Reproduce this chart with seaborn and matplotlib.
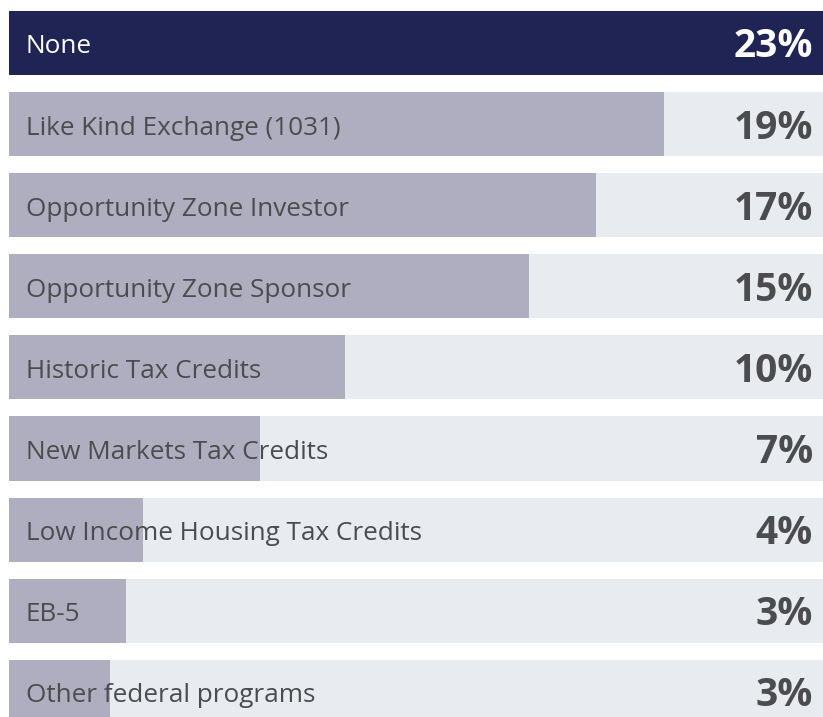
"""
Horizontal bar chart of federal program usage, drawn with seaborn.
"""
import matplotlib
matplotlib.use("Agg")
import matplotlib.pyplot as plt
import seaborn as sns
import pandas as pd

categories = [
    "None",
    "Like Kind Exchange (1031)",
    "Opportunity Zone Investor",
    "Opportunity Zone Sponsor",
    "Historic Tax Credits",
    "New Markets Tax Credits",
    "Low Income Housing Tax Credits",
    "EB-5",
    "Other federal programs",
]
# bar lengths (percent)
values = [23.0, 18.5, 16.6, 14.7, 9.5, 7.1, 3.8, 3.3, 2.85]
value_labels = ["23%", "19%", "17%", "15%", "10%", "7%", "4%", "3%", "3%"]
track_max = 23.0

NAVY = "#1f2454"
BAR_GRAY = "#afaec0"
TRACK = "#e8ebef"
TEXT = "#4c4c4e"

sns.set_style("white")
plt.rcParams["font.family"] = ["Open Sans", "DejaVu Sans"]

df = pd.DataFrame({"program": categories, "value": values})
df["track"] = track_max

fig = plt.figure(figsize=(8.23, 7.17), dpi=100)
ax = fig.add_axes([9 / 823, 0, 1 - 9 / 823, 1])

# light background track behind every bar
sns.barplot(data=df, x="track", y="program", color=TRACK, width=0.79,
            orient="h", ax=ax, saturation=1, linewidth=0)
# actual values, first row highlighted
palette = [NAVY] + [BAR_GRAY] * (len(categories) - 1)
sns.barplot(data=df, x="value", y="program", hue="program", palette=palette,
            width=0.79, orient="h", ax=ax, saturation=1, legend=False,
            linewidth=0)

for i, (name, lab) in enumerate(zip(categories, value_labels)):
    col = "white" if i == 0 else TEXT
    ax.annotate(name, xy=(0, i), xytext=(17, -4), textcoords="offset pixels",
                ha="left", va="center", fontsize=18.8, color=col)
    ax.annotate(lab, xy=(track_max, i), xytext=(-10, -4), textcoords="offset pixels",
                ha="right", va="center", fontsize=28, fontweight="bold", color=col)

ax.set_xlim(0, track_max)
ax.set_ylim(8.311, -0.530)
ax.set_xlabel("")
ax.set_ylabel("")
ax.set_xticks([])
ax.set_yticks([])
sns.despine(ax=ax, left=True, bottom=True)

fig.savefig("out.png", dpi=100, facecolor="white")
